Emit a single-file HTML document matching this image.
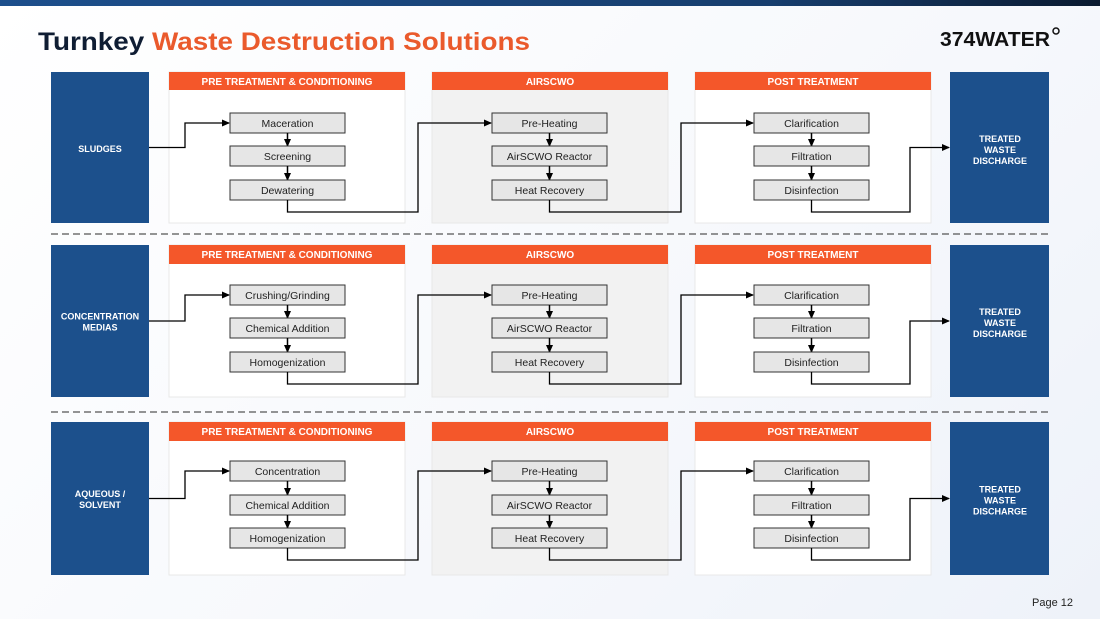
<!DOCTYPE html>
<html><head><meta charset="utf-8"><style>
body{margin:0;width:1100px;height:619px;overflow:hidden;background:linear-gradient(135deg,#ffffff 0%,#f6f8fc 60%,#eef2f9 100%);font-family:"Liberation Sans",sans-serif}
svg{position:absolute;left:0;top:0}
</style></head><body>
<svg width="1100" height="619" viewBox="0 0 1100 619" xmlns="http://www.w3.org/2000/svg">
<defs>
<linearGradient id="tb" x1="0" x2="1"><stop offset="0" stop-color="#1d4f8c"/><stop offset="0.7" stop-color="#173e6e"/><stop offset="1" stop-color="#0a1a30"/></linearGradient>
<marker id="a" markerWidth="8" markerHeight="8" refX="7" refY="4" orient="auto" markerUnits="userSpaceOnUse"><path d="M0,0.5 L8,4 L0,7.5z" fill="#000"/></marker>
</defs>
<rect x="0" y="0" width="1100" height="6" fill="url(#tb)"/>
<text x="38" y="50" font-size="25" font-weight="bold" fill="#0f1d33" textLength="492" lengthAdjust="spacingAndGlyphs">Turnkey <tspan fill="#ea5a2c">Waste Destruction Solutions</tspan></text>
<text x="940" y="46" font-size="20" fill="#111" font-weight="bold" textLength="110" lengthAdjust="spacingAndGlyphs">374WATER</text>
<circle cx="1056" cy="31" r="3" fill="none" stroke="#111" stroke-width="1.5"/>
<text x="1032" y="606" font-size="11" fill="#222">Page 12</text>
<line x1="51" y1="234" x2="1050" y2="234" stroke="#555" stroke-width="1.2" stroke-dasharray="7,4"/>
<line x1="51" y1="412" x2="1050" y2="412" stroke="#555" stroke-width="1.2" stroke-dasharray="7,4"/>
<g font-size="10" text-anchor="middle">
<rect x="51" y="72" width="98" height="151" fill="#1c508c"/>
<text x="100" y="152" fill="#fff" font-weight="bold" font-size="9">SLUDGES</text>
<rect x="169" y="72" width="236" height="151" fill="#fff" stroke="#e8e8e8"/>
<rect x="432" y="72" width="236" height="151" fill="#f2f2f2" stroke="#e8e8e8"/>
<rect x="695" y="72" width="236" height="151" fill="#fff" stroke="#e8e8e8"/>
<rect x="169" y="72" width="236" height="18" fill="#f4572a"/>
<rect x="432" y="72" width="236" height="18" fill="#f4572a"/>
<rect x="695" y="72" width="236" height="18" fill="#f4572a"/>
<text x="287" y="85" fill="#fff" font-weight="bold" font-size="10">PRE TREATMENT &amp; CONDITIONING</text>
<text x="550" y="85" fill="#fff" font-weight="bold" font-size="10">AIRSCWO</text>
<text x="813" y="85" fill="#fff" font-weight="bold" font-size="10">POST TREATMENT</text>
<rect x="950" y="72" width="99" height="151" fill="#1c508c"/>
<text x="1000" y="142" fill="#fff" font-weight="bold" font-size="9">TREATED</text>
<text x="1000" y="153" fill="#fff" font-weight="bold" font-size="9">WASTE</text>
<text x="1000" y="164" fill="#fff" font-weight="bold" font-size="9">DISCHARGE</text>
</g>
</svg>
<script>
(function(){
var NS="http://www.w3.org/2000/svg",svg=document.querySelector("svg");
function el(t,a,txt){var e=document.createElementNS(NS,t);for(var k in a)e.setAttribute(k,a[k]);if(txt!=null)e.textContent=txt;svg.appendChild(e);return e;}
var rows=[
 {y:72,h:151,left:["SLUDGES"],pre:["Maceration","Screening","Dewatering"],b:[113,146,180],skip:true},
 {y:245,h:152,left:["CONCENTRATION","MEDIAS"],pre:["Crushing/Grinding","Chemical Addition","Homogenization"],b:[285,318,352]},
 {y:422,h:153,left:["AQUEOUS /","SOLVENT"],pre:["Concentration","Chemical Addition","Homogenization"],b:[461,495,528]}
];
var air=["Pre-Heating","AirSCWO Reactor","Heat Recovery"],post=["Clarification","Filtration","Disinfection"];
rows.forEach(function(r){
 var y=r.y,h=r.h,mid=y+h/2;
 if(!r.skip){
 el("rect",{x:51,y:y,width:98,height:h,fill:"#1c508c"});
 r.left.forEach(function(t,i){el("text",{x:100,y:mid+4+(i-(r.left.length-1)/2)*11,fill:"#fff","font-weight":"bold","font-size":9,"text-anchor":"middle","font-family":"Liberation Sans"},t);});
 [[169,"#fff","PRE TREATMENT & CONDITIONING"],[432,"#f2f2f2","AIRSCWO"],[695,"#fff","POST TREATMENT"]].forEach(function(p){
  el("rect",{x:p[0],y:y,width:236,height:h,fill:p[1],stroke:"#e8e8e8"});
  el("rect",{x:p[0],y:y,width:236,height:19,fill:"#f4572a"});
  el("text",{x:p[0]+118,y:y+13,fill:"#fff","font-weight":"bold","font-size":10,"text-anchor":"middle","font-family":"Liberation Sans"},p[2]);
 });
 el("rect",{x:950,y:y,width:99,height:h,fill:"#1c508c"});
 ["TREATED","WASTE","DISCHARGE"].forEach(function(t,i){el("text",{x:1000,y:mid-6+i*11,fill:"#fff","font-weight":"bold","font-size":9,"text-anchor":"middle","font-family":"Liberation Sans"},t);});
 }
 var cols=[[230,r.pre],[492,air],[754,post]];
 cols.forEach(function(c){
  var cx=c[0]+57.5;
  for(var i=0;i<3;i++){
   el("rect",{x:c[0],y:r.b[i],width:115,height:20,fill:"#e6e6e6",stroke:"#333","stroke-width":1});
   el("text",{x:cx,y:r.b[i]+14,"font-size":10.5,fill:"#222","text-anchor":"middle","font-family":"Liberation Sans"},c[1][i]);
   if(i<2)el("line",{x1:cx,y1:r.b[i]+20,x2:cx,y2:r.b[i+1],stroke:"#000","stroke-width":1.5,"marker-end":"url(#a)"});
  }
 });
 var top=r.b[0]+10,bot=r.b[2]+32;
 var st={fill:"none",stroke:"#000","stroke-width":1.3,"marker-end":"url(#a)"};
 function p(d){var o={};for(var k in st)o[k]=st[k];o.d=d;el("path",o);}
 p("M149,"+(mid)+" H185 V"+top+" H229");
 p("M287.5,"+(r.b[2]+20)+" V"+bot+" H418 V"+top+" H491");
 p("M549.5,"+(r.b[2]+20)+" V"+bot+" H681 V"+top+" H753");
 p("M811.5,"+(r.b[2]+20)+" V"+bot+" H910 V"+(mid)+" H949");
});
})();
</script>
</body></html>
